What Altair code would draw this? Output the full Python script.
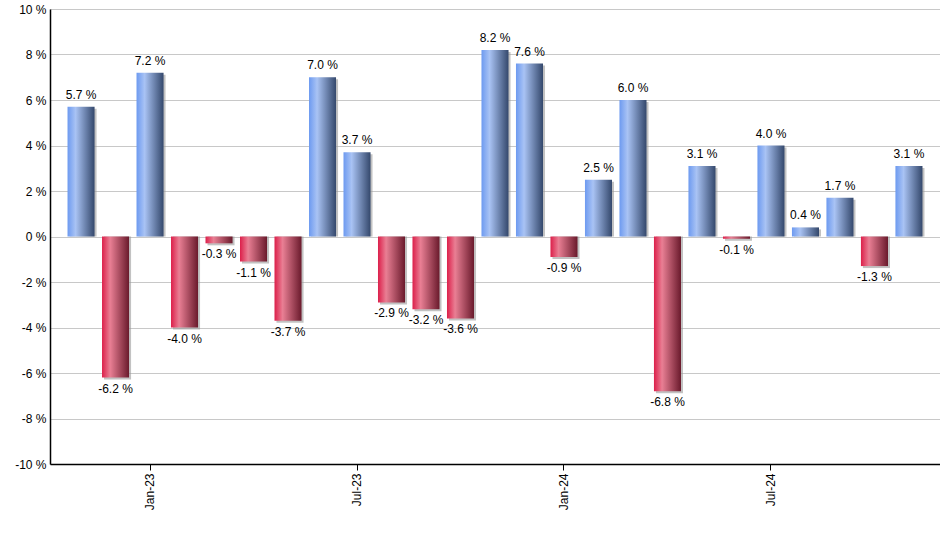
import altair as alt
import pandas as pd

months = ["Nov-22", "Dec-22", "Jan-23", "Feb-23", "Mar-23", "Apr-23", "May-23", "Jun-23",
          "Jul-23", "Aug-23", "Sep-23", "Oct-23", "Nov-23", "Dec-23", "Jan-24", "Feb-24",
          "Mar-24", "Apr-24", "May-24", "Jun-24", "Jul-24", "Aug-24", "Sep-24", "Oct-24",
          "Nov-24"]
returns = [5.7, -6.2, 7.2, -4.0, -0.3, -1.1, -3.7, 7.0, 3.7, -2.9, -3.2, -3.6, 8.2, 7.6,
           -0.9, 2.5, 6.0, -6.8, 3.1, -0.1, 4.0, 0.4, 1.7, -1.3, 3.1]
tick_months = ["Jan-23", "Jul-23", "Jan-24", "Jul-24"]

df = pd.DataFrame({"month": months, "ret": returns})
df["label"] = [f"{v:.1f} %" for v in returns]

FONT = "Liberation Sans"

x_enc = alt.X("month:N", sort=months,
              scale=alt.Scale(paddingInner=0.216, paddingOuter=0.508),
              axis=alt.Axis(values=tick_months, title=None, labelAngle=-90,
                            labelAlign="right", labelBaseline="middle",
                            labelFontSize=12, labelFont=FONT, labelColor="black",
                            tickColor="black", tickSize=6, labelPadding=3,
                            domainColor="black", domainWidth=1.5, grid=False))
y_enc = alt.Y("ret:Q", scale=alt.Scale(domain=[-10, 10], nice=False),
              axis=alt.Axis(values=list(range(-10, 11, 2)), title=None,
                            labelExpr="datum.value + ' %'", labelFontSize=12,
                            labelFont=FONT, labelColor="black", tickSize=0,
                            labelPadding=4, domainColor="black", domainWidth=1.5,
                            grid=True, gridColor="#c8c8c8", gridWidth=1))

blue = alt.Gradient(gradient="linear", x1=0, x2=1, y1=0, y2=0, stops=[
    alt.GradientStop(offset=0, color="#6d9af0"),
    alt.GradientStop(offset=0.3, color="#a9c3f4"),
    alt.GradientStop(offset=1, color="#34486c")])
red = alt.Gradient(gradient="linear", x1=0, x2=1, y1=0, y2=0, stops=[
    alt.GradientStop(offset=0, color="#dc1f4a"),
    alt.GradientStop(offset=0.3, color="#e97f94"),
    alt.GradientStop(offset=1, color="#6a1a2c")])

base = alt.Chart(df)

shadow = base.mark_bar(color="#9a9a9a", opacity=0.6, xOffset=2, yOffset=2).encode(
    x=x_enc, y=y_enc, y2=alt.datum(0))
pos = base.transform_filter("datum.ret >= 0").mark_bar(fill=blue).encode(
    x=x_enc, y=y_enc, y2=alt.datum(0))
neg = base.transform_filter("datum.ret < 0").mark_bar(fill=red).encode(
    x=x_enc, y=y_enc, y2=alt.datum(0))
pos_t = base.transform_filter("datum.ret >= 0").mark_text(
    baseline="bottom", dy=-5, fontSize=12, font=FONT, color="black").encode(
    x=x_enc, y=y_enc, text="label:N")
neg_t = base.transform_filter("datum.ret < 0").mark_text(
    baseline="top", dy=6, fontSize=12, font=FONT, color="black").encode(
    x=x_enc, y=y_enc, text="label:N")

chart = alt.layer(shadow, pos, neg, pos_t, neg_t).properties(
    width=890, height=455,
    autosize=alt.AutoSizeParams(type="none"),
    padding={"left": 50, "top": 9, "right": 0, "bottom": 86},
).configure_view(stroke=None).configure(background="white")

chart.save("out.html", embed_options={"renderer": "svg", "actions": False})
